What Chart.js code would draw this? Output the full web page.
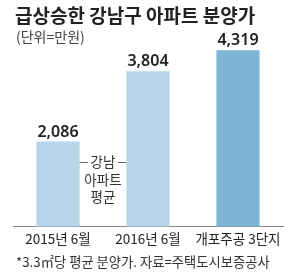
<!DOCTYPE html>
<html>
<head>
<meta charset="utf-8">
<script src="https://cdn.jsdelivr.net/npm/chart.js@4"></script>
<style>
  html, body { margin: 0; padding: 0; background: #fff; }
  #wrap { width: 300px; height: 275px; position: relative; }
</style>
</head>
<body>
<div id="wrap"><canvas id="ctxBunyang"></canvas></div>
<script>
const categories = ['2015년 6월', '2016년 6월', '개포주공 3단지'];
const prices = [2086, 3804, 4319];
const barColors = ['#b8d6ea', '#b8d6ea', '#7fb4d4'];
const valueLabels = ['2,086', '3,804', '4,319'];

const fontKR = '"Noto Sans CJK KR", "Noto Sans", sans-serif';

// title, value labels, annotation and footnote drawn on the canvas
const textPlugin = {
  id: 'texts',
  afterDraw(chart) {
    const ctx = chart.ctx;
    const meta = chart.getDatasetMeta(0);
    ctx.save();
    ctx.fillStyle = '#222';
    ctx.textBaseline = 'alphabetic';
    ctx.textAlign = 'left';
    ctx.font = 'bold 19px ' + fontKR;
    ctx.fillText('급상승한 강남구 아파트 분양가', 15, 23);
    ctx.font = '14px ' + fontKR;
    ctx.fillStyle = '#444';
    ctx.fillText('(단위=만원)', 16, 42);

    // values above bars
    ctx.fillStyle = '#222';
    ctx.textAlign = 'center';
    ctx.font = '600 16px "Noto Sans", sans-serif';
    meta.data.forEach((bar, i) => {
      ctx.fillText(valueLabels[i], bar.x, bar.y - 5);
    });

    // 강남 아파트 평균 note between the first two bars
    const b1 = meta.data[0], b2 = meta.data[1];
    const left = b1.x + b1.width / 2, right = b2.x - b2.width / 2;
    const mid = (left + right) / 2;
    ctx.font = '13.5px ' + fontKR;
    ctx.fillStyle = '#333';
    ctx.fillText('강남', mid, 167);
    ctx.fillText('아파트', mid, 185);
    ctx.fillText('평균', mid, 202);
    ctx.strokeStyle = '#666';
    ctx.lineWidth = 1;
    ctx.beginPath();
    ctx.moveTo(left, 162.5); ctx.lineTo(mid - 15, 162.5);
    ctx.moveTo(mid + 15, 162.5); ctx.lineTo(right, 162.5);
    ctx.stroke();

    // footnote
    ctx.textAlign = 'left';
    ctx.font = '13.3px ' + fontKR;
    ctx.fillStyle = '#333';
    ctx.fillText('*3.3㎡당 평균 분양가. 자료=주택도시보증공사', 16, 267);
    ctx.restore();
  }
};

new Chart(document.getElementById('ctxBunyang'), {
  type: 'bar',
  data: {
    labels: categories,
    datasets: [{
      data: prices,
      backgroundColor: barColors,
      borderWidth: 0,
      categoryPercentage: 1,
      barPercentage: 0.48
    }]
  },
  options: {
    responsive: true,
    maintainAspectRatio: false,
    animation: false,
    events: [],
    layout: { padding: { top: 0, left: 13, right: 17, bottom: 24 } },
    plugins: {
      legend: { display: false },
      tooltip: { enabled: false }
    },
    scales: {
      x: {
        grid: { display: false, drawTicks: false },
        border: { display: true, color: '#888', width: 1 },
        ticks: {
          padding: 4,
          color: '#222',
          minRotation: 0,
          maxRotation: 0,
          autoSkip: false,
          font: { family: fontKR, size: 13.5 }
        }
      },
      y: {
        display: false,
        min: 0,
        max: 5550
      }
    }
  },
  plugins: [textPlugin]
});
</script>
</body>
</html>
